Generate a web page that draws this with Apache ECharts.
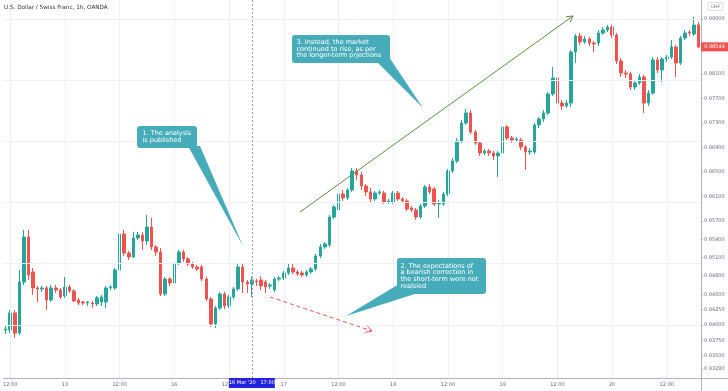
<!DOCTYPE html>
<html><head><meta charset="utf-8">
<script src="https://cdn.jsdelivr.net/npm/echarts@6/dist/echarts.min.js"></script>
<style>html,body{margin:0;padding:0;background:#fff}#c{width:728px;height:391px}</style>
</head><body><div id="c"></div>
<script>
// trading sessions shown: [day, firstHour, lastHour]
const daySegments = [[12,11,23],[13,0,21],[15,22,23],[16,0,23],[17,0,23],[18,0,23],[19,0,23],[20,0,19]];
const categories = [];
daySegments.forEach(function (s) {
  for (let h = s[1]; h <= s[2]; h++) categories.push(s[0] + ' ' + (h < 10 ? '0' + h : h) + ':00');
});

const opens = [0.93918,0.93918,0.94196,0.93869,0.94702,0.95437,0.94866,0.94604,0.94588,0.94604,0.94408,0.94604,0.94571,0.94473,0.94620,0.94555,0.94408,0.94375,0.94359,0.94359,
0.94343,0.94375,0.94375,0.94604,0.94604,0.94898,0.95486,0.95176,0.95111,0.95421,0.95470,0.95372,0.95601,0.95274,0.95192,0.94506,0.94751,0.94686,0.95013,0.95192,
0.95078,0.94996,0.94947,0.94947,0.94751,0.94424,0.94016,0.94277,0.94506,0.94310,0.94457,0.94588,0.94947,0.94702,0.94669,0.94718,0.94735,0.94702,0.94637,0.94571,
0.94751,0.94767,0.94849,0.94931,0.94866,0.94849,0.94817,0.94866,0.94915,0.95127,0.95274,0.95307,0.95764,0.95879,0.96140,0.96075,0.96205,0.96516,0.96451,0.96271,
0.96173,0.96058,0.96156,0.96156,0.96009,0.96009,0.96156,0.96058,0.96026,0.95911,0.95879,0.95764,0.95944,0.96254,0.96222,0.95977,0.95977,0.96140,0.96516,0.96679,
0.97006,0.97300,0.97464,0.97153,0.96973,0.96810,0.96843,0.96810,0.96761,0.96810,0.97235,0.97055,0.97022,0.97022,0.96908,0.96826,0.96826,0.97268,0.97366,0.97464,
0.97774,0.98036,0.97627,0.97578,0.97627,0.98460,0.98722,0.98624,0.98673,0.98607,0.98607,0.98771,0.98820,0.98869,0.98738,0.98313,0.98117,0.98101,0.97888,0.97954,
0.98052,0.97627,0.97790,0.98330,0.98166,0.98346,0.98379,0.98542,0.98281,0.98689,0.98787,0.98754,0.98902];
const closes = [0.93934,0.94196,0.93869,0.94702,0.95437,0.94817,0.94604,0.94588,0.94604,0.94408,0.94604,0.94571,0.94457,0.94620,0.94555,0.94392,0.94359,0.94359,0.94375,0.94343,
0.94441,0.94457,0.94604,0.94620,0.94898,0.95486,0.95176,0.95111,0.95421,0.95470,0.95372,0.95601,0.95274,0.95192,0.94506,0.94751,0.94686,0.95013,0.95192,0.95078,
0.94996,0.94947,0.94915,0.94751,0.94424,0.94016,0.94277,0.94506,0.94310,0.94457,0.94588,0.94947,0.94702,0.94669,0.94735,0.94702,0.94637,0.94620,0.94653,0.94751,
0.94767,0.94849,0.94931,0.94866,0.94833,0.94817,0.94866,0.94915,0.95127,0.95274,0.95323,0.95764,0.95928,0.96140,0.96075,0.96205,0.96516,0.96451,0.96271,0.96173,
0.96058,0.96156,0.96173,0.96009,0.96026,0.96156,0.96058,0.96026,0.95895,0.95879,0.95764,0.95944,0.96254,0.96173,0.95977,0.95993,0.96140,0.96516,0.96679,0.97006,
0.97300,0.97464,0.97153,0.96973,0.96810,0.96843,0.96810,0.96761,0.96810,0.97235,0.97055,0.97022,0.97039,0.96908,0.96826,0.96843,0.97268,0.97366,0.97464,0.97774,
0.98036,0.97627,0.97578,0.97627,0.98460,0.98722,0.98624,0.98673,0.98607,0.98591,0.98771,0.98820,0.98869,0.98738,0.98313,0.98117,0.98101,0.97888,0.97954,0.98052,
0.97627,0.97790,0.98330,0.98166,0.98346,0.98379,0.98542,0.98281,0.98689,0.98771,0.98771,0.98902,0.98544];
const lows = [0.93852,0.93869,0.93787,0.93836,0.94653,0.94735,0.94490,0.94375,0.94539,0.94245,0.94375,0.94522,0.94424,0.94441,0.94522,0.94375,0.94326,0.94326,0.94310,0.94277,
0.94310,0.94310,0.94277,0.94571,0.94571,0.94866,0.95127,0.95062,0.95094,0.95388,0.95225,0.95307,0.95225,0.95127,0.94473,0.94473,0.94637,0.94653,0.94980,0.95029,
0.94964,0.94915,0.94882,0.94718,0.94392,0.93967,0.93950,0.94245,0.94261,0.94277,0.94424,0.94555,0.94522,0.94522,0.94457,0.94637,0.94571,0.94522,0.94588,0.94539,
0.94718,0.94735,0.94817,0.94833,0.94800,0.94784,0.94784,0.94833,0.94882,0.95094,0.95241,0.95274,0.95732,0.95830,0.96026,0.96042,0.96173,0.96369,0.96205,0.96107,
0.96009,0.96026,0.96124,0.95977,0.95977,0.95977,0.96026,0.95993,0.95862,0.95846,0.95715,0.95732,0.95911,0.96140,0.95944,0.95748,0.95944,0.96107,0.96483,0.96647,
0.96973,0.97268,0.97120,0.96941,0.96761,0.96777,0.96761,0.96696,0.96418,0.96777,0.97022,0.96973,0.96990,0.96859,0.96532,0.96777,0.96794,0.97218,0.97317,0.97431,
0.97741,0.97300,0.97513,0.97545,0.97562,0.98281,0.98575,0.98591,0.98558,0.98460,0.98558,0.98738,0.98787,0.98689,0.98264,0.98052,0.98036,0.97839,0.97839,0.97921,
0.97464,0.97578,0.97758,0.98117,0.97970,0.98297,0.98346,0.98052,0.98248,0.98656,0.98722,0.98722,0.98526];
const highs = [0.93999,0.94245,0.94245,0.94898,0.95552,0.95552,0.94931,0.94637,0.94637,0.94637,0.94653,0.94653,0.94604,0.94784,0.94653,0.94588,0.94441,0.94392,0.94392,0.94392,
0.94473,0.94490,0.94637,0.94653,0.94931,0.95552,0.95552,0.95209,0.95519,0.95519,0.95519,0.95797,0.95748,0.95307,0.95258,0.94784,0.94784,0.95062,0.95225,0.95225,
0.95111,0.95029,0.94980,0.94980,0.94784,0.94457,0.94310,0.94539,0.94539,0.94490,0.94620,0.95013,0.95013,0.94735,0.94784,0.94751,0.94800,0.94735,0.94686,0.94784,
0.94800,0.94882,0.94996,0.94996,0.94898,0.94882,0.94898,0.94947,0.95160,0.95323,0.95355,0.95797,0.95960,0.96205,0.96205,0.96238,0.96565,0.96565,0.96500,0.96304,
0.96238,0.96189,0.96205,0.96189,0.96058,0.96189,0.96189,0.96091,0.96058,0.95944,0.95911,0.95977,0.96287,0.96304,0.96254,0.96042,0.96173,0.96548,0.96728,0.97055,
0.97349,0.97529,0.97513,0.97186,0.97006,0.96875,0.96875,0.96843,0.96843,0.97268,0.97268,0.97088,0.97071,0.97055,0.96941,0.96892,0.97300,0.97398,0.97513,0.97807,
0.98215,0.98248,0.97676,0.97676,0.98493,0.98754,0.98771,0.98722,0.98705,0.98640,0.98820,0.98869,0.98902,0.98902,0.98771,0.98362,0.98166,0.98134,0.98003,0.98101,
0.98085,0.97839,0.98379,0.98379,0.98379,0.98411,0.98656,0.98575,0.98722,0.98820,0.98820,0.99032,0.98951];

const yTicks = [0.99,0.981,0.977,0.973,0.969,0.965,0.961,0.957,0.954,0.951,0.948,0.945,0.9425,0.94,0.9375,0.935,0.9328];
const lastPrice = 0.98544;
const crossIndex = 54;
const crossLabel = "16 Mar '20   17:00";
const titleText = 'U.S. Dollar / Swiss Franc, 1h, OANDA';

const candles = opens.map(function (o, i) { return [o, closes[i], lows[i], highs[i]]; });
const isLabelIdx = function (i) { return i % 12 === 1; };

const gridLines = [];
yTicks.forEach(function (v) { gridLines.push({ yAxis: v }); });
categories.forEach(function (c, i) { if (isLabelIdx(i)) gridLines.push({ xAxis: c }); });

const FONT = '"DejaVu Sans", Verdana, sans-serif';
const chart = echarts.init(document.getElementById('c'), null, { renderer: 'canvas' });

chart.setOption({
  animation: false,
  backgroundColor: '#ffffff',
  grid: { left: 0, right: 27, top: 0, bottom: 13 },
  xAxis: {
    type: 'category', data: categories, boundaryGap: true,
    axisLine: { show: true, lineStyle: { color: '#b2b5be', width: 1 } },
    axisTick: { show: false },
    splitLine: { show: false },
    axisLabel: {
      interval: function (i) { return isLabelIdx(i); },
      formatter: function (v) { const p = v.split(' '); return p[1] === '00:00' ? p[0] : p[1]; },
      fontSize: 5, color: '#6a6d78', margin: 4, fontFamily: FONT
    }
  },
  yAxis: {
    type: 'value', position: 'right', min: 0.93133, max: 0.9931, scale: true,
    axisLine: { show: true, lineStyle: { color: '#b2b5be', width: 1 } },
    axisTick: { show: true, customValues: yTicks, length: 2, lineStyle: { color: '#b2b5be' } },
    splitLine: { show: false },
    axisLabel: {
      customValues: yTicks,
      formatter: function (v) { return v.toFixed(5); },
      fontSize: 5, color: '#6a6d78', margin: 3, fontFamily: FONT
    }
  },
  series: [
    {
      type: 'line', data: [], z: 1, silent: true,
      markLine: {
        silent: true, symbol: 'none', label: { show: false },
        lineStyle: { color: '#eef1f6', type: 'solid', width: 1 },
        animation: false,
        data: gridLines
      }
    },
    {
      type: 'candlestick', data: candles, z: 3, barWidth: '66%',
      itemStyle: { color: '#26a69a', color0: '#ef5350', borderColor: '#26a69a', borderColor0: '#ef5350', borderWidth: 1 },
      markLine: {
        silent: true, symbol: 'none', label: { show: false }, animation: false,
        lineStyle: { color: '#9a98c4', type: [2, 2], width: 1 },
        data: [{ xAxis: categories[crossIndex] }]
      }
    }
  ]
});

function arrowHead(x1, y1, x2, y2, len) {
  const a = Math.atan2(y1 - y2, x1 - x2);
  const d = Math.PI / 6;
  return [[x2 + len * Math.cos(a + d), y2 + len * Math.sin(a + d)], [x2, y2], [x2 + len * Math.cos(a - d), y2 + len * Math.sin(a - d)]];
}

const priceY = chart.convertToPixel({ yAxisIndex: 0 }, lastPrice);
const crossX = chart.convertToPixel({ xAxisIndex: 0 }, crossIndex);
const TEAL = '#47acb9';
const txt = function (x, y, text, size, fill, lh, extra) {
  return Object.assign({ type: 'text', x: x, y: y, z: 100, style: { text: text, fill: fill, fontSize: size, fontFamily: FONT, lineHeight: lh || size * 1.2, textVerticalAlign: 'top' } }, extra || {});
};

const green = { x1: 300, y1: 212, x2: 573, y2: 16 };
const red = { x1: 270, y1: 297, x2: 372, y2: 331 };

chart.setOption({
  graphic: [
    txt(4, 3.8, titleText, 5.7, '#333333', 6.5),
    { type: 'line', z: 100, shape: { x1: 701, y1: 378.5, x2: 728, y2: 378.5 }, style: { stroke: '#b2b5be', lineWidth: 1 } },
    { type: 'line', z: 100, shape: { x1: 701.5, y1: 378, x2: 701.5, y2: 391 }, style: { stroke: '#b2b5be', lineWidth: 1 } },
    { type: 'rect', z: 100, shape: { x: 708, y: 2.5, width: 15, height: 8, r: 1 }, style: { fill: '#fff', stroke: '#d1d4dc', lineWidth: 0.8 } },
    { type: 'text', z: 101, x: 715.5, y: 6.8, style: { text: 'CHF', fill: '#6a6d78', fontSize: 4.5, fontFamily: FONT, textAlign: 'center', textVerticalAlign: 'middle' } },
    { type: 'rect', z: 100, shape: { x: 701, y: priceY - 4.5, width: 27, height: 9 }, style: { fill: '#ef5350' } },
    { type: 'text', z: 101, x: 714.5, y: priceY, style: { text: lastPrice.toFixed(5), fill: '#fff', fontSize: 5, fontFamily: FONT, textAlign: 'center', textVerticalAlign: 'middle' } },
    { type: 'rect', z: 100, shape: { x: crossX - 23, y: 378, width: 46, height: 10 }, style: { fill: '#2424dc' } },
    { type: 'text', z: 101, x: crossX, y: 383.2, style: { text: crossLabel, fill: '#fff', fontSize: 5, fontFamily: FONT, textAlign: 'center', textVerticalAlign: 'middle' } },
    // trend arrows
    { type: 'line', z: 90, shape: green, style: { stroke: '#5b8f3e', lineWidth: 1 } },
    { type: 'polyline', z: 90, shape: { points: arrowHead(green.x1, green.y1, green.x2, green.y2, 7) }, style: { stroke: '#5b8f3e', lineWidth: 1, fill: null } },
    { type: 'line', z: 90, shape: red, style: { stroke: '#ef5350', lineWidth: 1, lineDash: [4, 3] } },
    { type: 'polyline', z: 90, shape: { points: arrowHead(red.x1, red.y1, red.x2, red.y2, 7) }, style: { stroke: '#ef5350', lineWidth: 1, fill: null } },
    // callout 1
    { type: 'polygon', z: 95, shape: { points: [[188, 146], [200, 146], [243, 246]] }, style: { fill: TEAL } },
    { type: 'rect', z: 95, shape: { x: 137, y: 126, width: 60, height: 22, r: 3 }, style: { fill: TEAL } },
    txt(142.5, 130, '1. The analysis\nis published', 6.5, '#ffffff', 6.7),
    // callout 3
    { type: 'polygon', z: 95, shape: { points: [[376, 61], [389, 57], [423, 108]] }, style: { fill: TEAL } },
    { type: 'rect', z: 95, shape: { x: 292, y: 35, width: 98, height: 28, r: 3 }, style: { fill: TEAL } },
    txt(296.5, 39.5, '3. Instead, the market\ncontinued to rise, as per\nthe longer-term prjections', 6.5, '#ffffff', 6.4),
    // callout 2
    { type: 'polygon', z: 95, shape: { points: [[399, 284], [418, 293], [346, 316]] }, style: { fill: TEAL } },
    { type: 'rect', z: 95, shape: { x: 397, y: 258, width: 89, height: 36, r: 3 }, style: { fill: TEAL } },
    txt(400.5, 262.6, '2. The expectations of\na bearish correction in\nthe short-term were not\nrealsied', 6.5, '#ffffff', 6.7)
  ]
});
</script></body></html>
